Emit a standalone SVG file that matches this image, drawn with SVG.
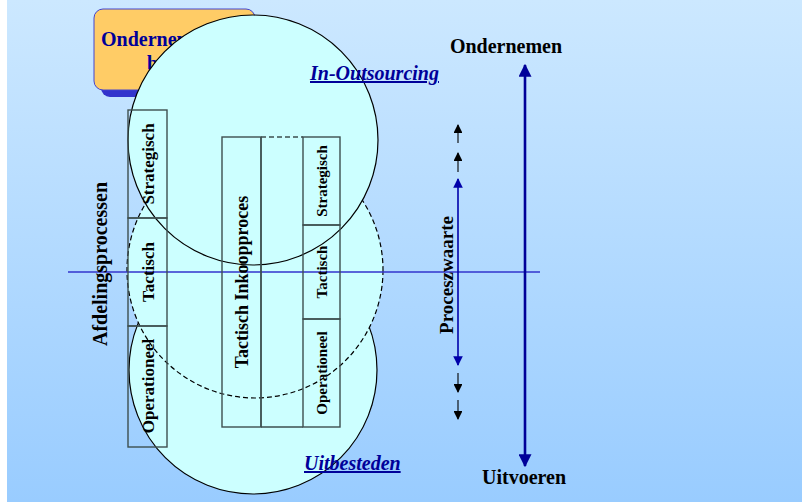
<svg xmlns="http://www.w3.org/2000/svg" width="802" height="502" viewBox="0 0 802 502">
  <defs>
    <linearGradient id="bg" x1="0" y1="0" x2="0" y2="1">
      <stop offset="0" stop-color="#cce8ff"/>
      <stop offset="1" stop-color="#99ccff"/>
    </linearGradient>
    <marker id="bigHead" viewBox="0 0 10 10" refX="9" refY="5" markerWidth="5" markerHeight="5" orient="auto-start-reverse" markerUnits="strokeWidth">
      <path d="M0,0 L10,5 L0,10 z" fill="#000099"/>
    </marker>
    <marker id="blueHead" viewBox="0 0 10 10" refX="9" refY="5" markerWidth="6" markerHeight="6" orient="auto-start-reverse" markerUnits="strokeWidth">
      <path d="M0,0 L10,5 L0,10 z" fill="#0000aa"/>
    </marker>
    <marker id="blackHead" viewBox="0 0 10 10" refX="9" refY="5" markerWidth="8" markerHeight="8" orient="auto" markerUnits="strokeWidth">
      <path d="M0,0 L10,5 L0,10 z" fill="#000"/>
    </marker>
  </defs>
  <style>
    .circle { fill: #ccffff; stroke: #000; stroke-width: 1.2; }
    .dashed { stroke-dasharray: 5 3; }
    .box { fill: none; stroke: #3d4f4f; stroke-width: 1.4; }
    .lbl { font-family: "Liberation Serif", "Times New Roman", serif; font-weight: bold; fill: #000; }
    .title { font-family: "Liberation Serif", "Times New Roman", serif; font-weight: bold; font-size: 20px; fill: #000099; }
    .link { font-family: "Liberation Serif", "Times New Roman", serif; font-weight: bold; font-style: italic; font-size: 20px; fill: #000099; text-decoration: underline; }
  </style>

  <!-- background -->
  <rect x="0" y="0" width="802" height="502" fill="#ffffff"/>
  <rect x="7" y="0" width="795" height="502" fill="url(#bg)"/>

  <!-- title card (partly hidden by the circles) -->
  <g id="title-card">
    <rect x="101" y="16" width="161" height="81" rx="9" fill="#3333cc"/>
    <rect x="94" y="9" width="161" height="81" rx="9" fill="#ffcc66" stroke="#4444cc" stroke-width="1"/>
    <text class="title" x="101" y="46">Ondernemings-</text>
    <text class="title" x="147" y="70">beleid</text>
  </g>

  <!-- three overlapping circles -->
  <g id="circle-uitbesteden">
    <circle class="circle" cx="253" cy="370" r="124"/>
  </g>
  <g id="circle-midden">
    <circle class="circle dashed" cx="255" cy="270" r="128"/>
  </g>
  <g id="circle-in-outsourcing">
    <circle class="circle" cx="253" cy="140" r="125"/>
  </g>

  <g id="connectors">
    <!-- horizontal axis -->
    <line x1="68" y1="272" x2="540" y2="272" stroke="#3333cc" stroke-width="1.4"/>
    <!-- Ondernemen / Uitvoeren axis -->
    <line x1="525" y1="65" x2="525" y2="466" stroke="#000099" stroke-width="2.6" marker-start="url(#bigHead)" marker-end="url(#bigHead)"/>
    <!-- Proceszwaarte axis -->
    <line x1="458" y1="179" x2="458" y2="365" stroke="#0000aa" stroke-width="1.6" marker-start="url(#blueHead)" marker-end="url(#blueHead)"/>
    <!-- small continuation arrows -->
    <line x1="458" y1="143" x2="458" y2="125" stroke="#000" stroke-width="1.1" marker-end="url(#blackHead)"/>
    <line x1="458" y1="172" x2="458" y2="153" stroke="#000" stroke-width="1.1" marker-end="url(#blackHead)"/>
    <line x1="458" y1="373" x2="458" y2="392" stroke="#000" stroke-width="1.1" marker-end="url(#blackHead)"/>
    <line x1="458" y1="400" x2="458" y2="419" stroke="#000" stroke-width="1.1" marker-end="url(#blackHead)"/>
  </g>

  <!-- department process column -->
  <g id="afdeling-strategisch">
    <rect class="box" x="128" y="110" width="39" height="108"/>
    <text class="lbl" font-size="17" transform="translate(154,164) rotate(-90)" text-anchor="middle">Strategisch</text>
  </g>
  <g id="afdeling-tactisch">
    <rect class="box" x="128" y="218" width="39" height="108"/>
    <text class="lbl" font-size="17" transform="translate(154,272) rotate(-90)" text-anchor="middle">Tactisch</text>
  </g>
  <g id="afdeling-operationeel">
    <rect class="box" x="128" y="326" width="39" height="121"/>
    <text class="lbl" font-size="17" transform="translate(154,386) rotate(-90)" text-anchor="middle">Operationeel</text>
  </g>

  <!-- tactical purchasing column -->
  <g id="tactisch-inkoopproces">
    <rect class="box" x="222" y="137" width="39" height="290"/>
    <text class="lbl" font-size="18" transform="translate(248,282) rotate(-90)" text-anchor="middle">Tactisch Inkoopproces</text>
  </g>
  <g id="tussenkolom">
    <line class="box" x1="261" y1="137" x2="303" y2="137" stroke-dasharray="5 3"/>
    <line class="box" x1="261" y1="137" x2="261" y2="427"/>
    <line class="box" x1="261" y1="427" x2="303" y2="427"/>
  </g>

  <!-- purchasing levels column -->
  <g id="inkoop-strategisch">
    <rect class="box" x="303" y="137" width="37" height="88"/>
    <text class="lbl" font-size="15" transform="translate(327,181) rotate(-90)" text-anchor="middle">Strategisch</text>
  </g>
  <g id="inkoop-tactisch">
    <rect class="box" x="303" y="225" width="37" height="94"/>
    <text class="lbl" font-size="15" transform="translate(327,272) rotate(-90)" text-anchor="middle">Tactisch</text>
  </g>
  <g id="inkoop-operationeel">
    <rect class="box" x="303" y="319" width="37" height="108"/>
    <text class="lbl" font-size="15" transform="translate(327,373) rotate(-90)" text-anchor="middle">Operationeel</text>
  </g>

  <!-- axis and area labels -->
  <g id="labels">
    <text class="lbl" font-size="20" transform="translate(107,264) rotate(-90)" text-anchor="middle">Afdelingsprocessen</text>
    <text class="lbl" font-size="19" transform="translate(453,275) rotate(-90)" text-anchor="middle">Proceszwaarte</text>
    <text class="lbl" font-size="20" x="506" y="53" text-anchor="middle">Ondernemen</text>
    <text class="lbl" font-size="20" x="524" y="484" text-anchor="middle">Uitvoeren</text>
    <text class="link" x="310" y="80">In-Outsourcing</text>
    <text class="link" x="304" y="470">Uitbesteden</text>
  </g>
</svg>
